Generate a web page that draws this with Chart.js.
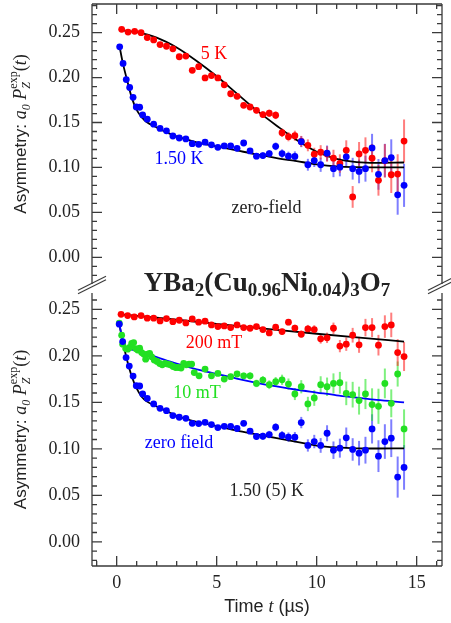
<!DOCTYPE html>
<html>
<head>
<meta charset="utf-8">
<script src="https://cdn.jsdelivr.net/npm/chart.js@4.4.0/dist/chart.umd.min.js"></script>
<style>
html, body { margin: 0; padding: 0; background: #fff; }
#wrap { position: relative; width: 451px; height: 623px; }
#wrap canvas { position: absolute; left: 0; top: 0; }
</style>
</head>
<body>
<div id="wrap">
  <canvas id="topChart" width="451" height="623"></canvas>
  <canvas id="bottomChart" width="451" height="623"></canvas>
</div>
<script>
// Common time bins (µs) used after the first microsecond or so
const tGrid = [1.53, 1.85, 2.17, 2.49, 2.81, 3.13, 3.46, 3.78, 4.10, 4.42, 4.74, 5.06, 5.38, 5.70, 6.02, 6.35, 6.67, 6.99, 7.31, 7.63, 7.95,
    8.27, 8.59, 8.91, 9.23, 9.56, 9.88, 10.20, 10.52, 10.84, 11.16, 11.48, 11.80, 12.12, 12.44, 12.77, 13.09, 13.41, 13.73, 14.05, 14.37];
const errGrid = [0.0012, 0.0012, 0.0013, 0.0013, 0.0014, 0.0015, 0.0016, 0.0017, 0.0018, 0.0019, 0.0020, 0.0022, 0.0023, 0.0025, 0.0027,
    0.0029, 0.0031, 0.0034, 0.0037, 0.0040, 0.0043, 0.0047, 0.0051, 0.0056, 0.0061, 0.0066, 0.0072, 0.0079, 0.0086, 0.0094, 0.0102,
    0.0111, 0.0121, 0.0132, 0.0144, 0.0157, 0.0171, 0.0186, 0.0203, 0.0221, 0.0240];

// Top panel: zero-field, 5 K and 1.50 K
const t5K = [0.25, 0.57, 0.90, 1.22].concat(tGrid);
const a5K = [0.2537, 0.2507, 0.2515, 0.2500,
    0.2445, 0.2419, 0.2368, 0.2349, 0.2320, 0.2232, 0.2239, 0.2081, 0.2122, 0.1996, 0.2022, 0.1996, 0.1919, 0.1820, 0.1791, 0.1691,
    0.1673, 0.1636, 0.1588, 0.1603, 0.1581, 0.1386, 0.1342, 0.1353, 0.1290, 0.1246, 0.1147, 0.1169, 0.1150, 0.1103, 0.1044, 0.1191,
    0.0672, 0.1151, 0.1191, 0.1103, 0.0857, 0.1074, 0.0919, 0.0926, 0.1294];
const e5K = [0.0010, 0.0010, 0.0010, 0.0011].concat(errGrid);

const t150K = [0.15, 0.32, 0.48, 0.65, 0.82, 0.98, 1.15, 1.30].concat(tGrid);
const a150K = [0.2342, 0.2158, 0.1978, 0.1890, 0.1780, 0.1673, 0.1670, 0.1585,
    0.1537, 0.1482, 0.1434, 0.1408, 0.1350, 0.1328, 0.1317, 0.1265, 0.1257, 0.1281, 0.1252, 0.1224, 0.1240, 0.1240, 0.1213, 0.1272,
    0.1184, 0.1125, 0.1132, 0.1154, 0.1235, 0.1154, 0.1125, 0.1123, 0.1287, 0.1030, 0.1077, 0.1030, 0.1158, 0.0986, 0.1003, 0.1118,
    0.0986, 0.0956, 0.0986, 0.1217, 0.0923, 0.1077, 0.1110, 0.0695, 0.0801];
const e150K = [0.0008, 0.0008, 0.0009, 0.0009, 0.0009, 0.0010, 0.0010, 0.0010].concat(errGrid);

const tFit5K = [0.25, 1, 2, 3, 4, 5, 6, 7, 8, 9, 10, 11, 12, 13, 14.37];
const aFit5K = [0.2525, 0.2505, 0.2445, 0.2335, 0.2185, 0.2015, 0.1825, 0.1635, 0.1465, 0.1305, 0.1175, 0.1095, 0.1060, 0.1052, 0.1055];
const tFit150K = [0.15, 0.3, 0.5, 0.75, 1.0, 1.25, 1.5, 2, 2.5, 3, 4, 5, 6, 7, 8, 9, 10, 11, 12, 13, 14.37];
const aFit150K = [0.234, 0.217, 0.199, 0.178, 0.164, 0.156, 0.1505, 0.1445, 0.139, 0.1345, 0.128, 0.1235, 0.119, 0.1145, 0.1105,
    0.107, 0.1035, 0.1012, 0.1003, 0.1000, 0.1000];

// Bottom panel: 1.50 K, 200 mT, 10 mT and zero field
const t200 = [0.22, 0.55, 0.88, 1.22].concat(tGrid);
const a200 = [0.2446, 0.2432, 0.2418, 0.2432,
    0.2404, 0.2404, 0.2375, 0.2400, 0.2367, 0.2382, 0.2353, 0.2396, 0.2361, 0.2372, 0.2332, 0.2314, 0.2321, 0.2303, 0.2332, 0.2303,
    0.2296, 0.2314, 0.2282, 0.2246, 0.2307, 0.2260, 0.2361, 0.2298, 0.2232, 0.2289, 0.2282, 0.2182, 0.2193, 0.2296, 0.2104, 0.2125,
    0.2221, 0.2118, 0.2303, 0.2303, 0.2114, 0.2314, 0.2332, 0.2035, 0.1992];
const e200 = [0.0007, 0.0007, 0.0007, 0.0008,
    0.0008, 0.0008, 0.0008, 0.0008, 0.0009, 0.0010, 0.0010, 0.0011, 0.0012, 0.0012, 0.0013, 0.0014, 0.0015, 0.0016, 0.0018, 0.0019,
    0.0020, 0.0022, 0.0024, 0.0026, 0.0028, 0.0031, 0.0033, 0.0036, 0.0040, 0.0043, 0.0047, 0.0051, 0.0056, 0.0061, 0.0066, 0.0072,
    0.0079, 0.0086, 0.0094, 0.0102, 0.0111, 0.0121, 0.0132, 0.0144, 0.0156];

const t10 = [0.13, 0.25, 0.30, 0.45, 0.55, 0.65, 0.75, 0.85, 0.95, 1.05, 1.15, 1.25, 1.35, 1.45, 1.55, 1.65, 1.75, 1.88, 2.02,
    2.15, 2.28, 2.42, 2.55, 2.68, 2.82, 2.95, 3.08, 3.22, 3.35, 3.48, 3.62, 3.75, 3.88, 4.12,
    4.42, 4.74, 5.06, 5.38, 5.70, 6.02, 6.35, 6.67, 6.99, 7.31, 7.63, 7.95, 8.27, 8.59, 8.91, 9.23, 9.56, 9.88, 10.20, 10.52,
    10.84, 11.16, 11.48, 11.80, 12.12, 12.44, 12.77, 13.09, 13.41, 13.73, 14.05, 14.37];
const a10 = [0.2350, 0.2221, 0.2125, 0.2078, 0.2071, 0.2089, 0.2132, 0.2142, 0.2078, 0.2061, 0.2082, 0.2035, 0.2018, 0.1964,
    0.2018, 0.2025, 0.1989, 0.1954, 0.1939, 0.1917, 0.1903, 0.1917, 0.1911, 0.1903, 0.1885, 0.1874, 0.1874, 0.1868, 0.1917,
    0.1903, 0.1911, 0.1911, 0.1820, 0.1785,
    0.1857, 0.1785, 0.1810, 0.1750, 0.1775, 0.1804, 0.1785, 0.1785, 0.1703, 0.1739, 0.1689, 0.1721, 0.1742, 0.1696, 0.1589,
    0.1667, 0.1482, 0.1546, 0.1689, 0.1667, 0.1703, 0.1710, 0.1596, 0.1582, 0.1518, 0.1589, 0.1475, 0.1457, 0.1703, 0.1489,
    0.1804, 0.1214];
const e10 = [0.0010, 0.0010, 0.0010, 0.0010, 0.0010, 0.0010, 0.0011, 0.0011, 0.0011, 0.0011, 0.0011, 0.0012, 0.0012, 0.0012,
    0.0013, 0.0013, 0.0013, 0.0014, 0.0014, 0.0014, 0.0015, 0.0015, 0.0015, 0.0016, 0.0016, 0.0017, 0.0017, 0.0018, 0.0018,
    0.0019, 0.0019, 0.0020, 0.0021, 0.0022,
    0.0023, 0.0024, 0.0026, 0.0028, 0.0030, 0.0032, 0.0034, 0.0037, 0.0040, 0.0043, 0.0047, 0.0051, 0.0055, 0.0060, 0.0065,
    0.0071, 0.0077, 0.0084, 0.0091, 0.0099, 0.0108, 0.0117, 0.0127, 0.0138, 0.0150, 0.0162, 0.0175, 0.0189, 0.0160, 0.0150,
    0.0135, 0.0210];

const tZF = [0.13, 0.30, 0.47, 0.63, 0.82, 0.98, 1.15, 1.30].concat(tGrid);
const aZF = [0.2340, 0.2153, 0.1981, 0.1889, 0.1782, 0.1678, 0.1675, 0.1589,
    0.1542, 0.1482, 0.1435, 0.1410, 0.1357, 0.1339, 0.1328, 0.1274, 0.1271, 0.1285, 0.1260, 0.1228, 0.1242, 0.1242, 0.1218, 0.1274,
    0.1189, 0.1132, 0.1135, 0.1153, 0.1232, 0.1143, 0.1125, 0.1125, 0.1282, 0.1036, 0.1078, 0.1036, 0.1167, 0.0985, 0.1007, 0.1118,
    0.0993, 0.0953, 0.0985, 0.1214, 0.0921, 0.1078, 0.1114, 0.0696, 0.0800];
const eZF = [0.0008, 0.0008, 0.0009, 0.0009, 0.0009, 0.0010, 0.0010, 0.0010].concat(errGrid);

const tFit200 = [0.17, 2, 4, 6, 8, 10, 12, 14.37];
const aFit200 = [0.2446, 0.2409, 0.2366, 0.2322, 0.2279, 0.2237, 0.2197, 0.2153];
const tFit10 = [0.13, 0.25, 0.4, 0.6, 1, 2, 3, 4, 5, 6, 7, 8, 9, 10, 11, 12, 13, 14.37];
const aFit10 = [0.235, 0.222, 0.211, 0.2075, 0.2055, 0.1985, 0.1915, 0.1855, 0.1805, 0.1755, 0.171, 0.167, 0.1635, 0.1605,
    0.1575, 0.155, 0.1525, 0.150];
const tFitZF = [0.13, 0.3, 0.5, 0.75, 1, 1.25, 1.5, 2, 2.5, 3, 4, 5, 6, 7, 8, 9, 10, 11, 12, 13, 14.37];
const aFitZF = [0.234, 0.216, 0.197, 0.178, 0.165, 0.156, 0.151, 0.1455, 0.1405, 0.1355, 0.129, 0.1245, 0.1195, 0.1155, 0.1115,
    0.1075, 0.1035, 0.1015, 0.1005, 0.1003, 0.1005];

// Axis ticks
const xTickValues = [0, 5, 10, 15];
const yTickValues = [0, 0.05, 0.10, 0.15, 0.20, 0.25];

const RED = '#ff0000';
const BLUE = '#0000ff';
const GREEN = '#22e022';
const SERIF = '"Liberation Serif", "Times New Roman", serif';
const SANS = '"Liberation Sans", Arial, sans-serif';

// Build {x, y} points from two arrays
function points(ts, as) {
    return ts.map((t, i) => ({ x: t, y: as[i] }));
}

function dataSet(ts, as, errs, color, barColor) {
    return {
        data: points(ts, as),
        err: errs,
        barColor: barColor,
        pointRadius: 3.4,
        pointBackgroundColor: color,
        pointBorderWidth: 0,
        showLine: false,
        order: 1
    };
}

function fitSet(ts, as, color) {
    return {
        data: points(ts, as),
        showLine: true,
        borderColor: color,
        borderWidth: 1.8,
        pointRadius: 0,
        cubicInterpolationMode: 'monotone',
        order: 5
    };
}

// Error bars under the markers
function drawErrorBars(chart) {
    const ctx = chart.ctx;
    const xs = chart.scales.x, ys = chart.scales.y;
    chart.data.datasets.forEach(ds => {
        if (!ds.err) return;
        ctx.save();
        ctx.strokeStyle = ds.barColor;
        ctx.lineWidth = 2;
        ds.data.forEach((p, i) => {
            const px = xs.getPixelForValue(p.x);
            ctx.beginPath();
            ctx.moveTo(px, ys.getPixelForValue(p.y + ds.err[i]));
            ctx.lineTo(px, ys.getPixelForValue(p.y - ds.err[i]));
            ctx.stroke();
        });
        ctx.restore();
    });
}

// Frame with inward ticks; the top panel has its x ticks on top, the bottom panel at the bottom
function drawFrame(chart, xEdge) {
    const ctx = chart.ctx, a = chart.chartArea;
    const xs = chart.scales.x, ys = chart.scales.y;
    ctx.save();
    ctx.strokeStyle = '#3a3a3a';
    ctx.lineWidth = 1.3;
    ctx.beginPath();
    ctx.moveTo(a.left, a.top); ctx.lineTo(a.left, a.bottom);
    ctx.moveTo(a.right, a.top); ctx.lineTo(a.right, a.bottom);
    const edgeY = xEdge === 'top' ? a.top : a.bottom;
    ctx.moveTo(a.left, edgeY); ctx.lineTo(a.right, edgeY);
    for (let k = -3; k <= 28; k++) {
        const v = k / 100;
        if (v < ys.min || v > ys.max) continue;
        const py = ys.getPixelForValue(v);
        const len = k % 5 === 0 ? 10 : 5;
        ctx.moveTo(a.left, py); ctx.lineTo(a.left + len, py);
        ctx.moveTo(a.right, py); ctx.lineTo(a.right - len, py);
    }
    const dir = xEdge === 'top' ? 1 : -1;
    for (let k = -1; k <= 16; k++) {
        const px = xs.getPixelForValue(k);
        const len = k % 5 === 0 ? 10 : 5;
        ctx.moveTo(px, edgeY); ctx.lineTo(px, edgeY + dir * len);
    }
    ctx.stroke();
    ctx.restore();
}

// Draws a run of text pieces with their own font and vertical offset
function drawPieces(ctx, pieces, x, y) {
    let cx = x;
    pieces.forEach(p => {
        ctx.font = p.font;
        if (p.stack) {
            let w = 0;
            p.stack.forEach(s => {
                ctx.font = s.font;
                ctx.fillText(s.text, cx, y + s.dy);
                w = Math.max(w, ctx.measureText(s.text).width);
            });
            cx += w;
        } else {
            ctx.fillText(p.text, cx, y + (p.dy || 0));
            cx += ctx.measureText(p.text).width;
        }
    });
}

function piecesWidth(ctx, pieces) {
    let w = 0;
    pieces.forEach(p => {
        if (p.stack) {
            let m = 0;
            p.stack.forEach(s => { ctx.font = s.font; m = Math.max(m, ctx.measureText(s.text).width); });
            w += m;
        } else {
            ctx.font = p.font;
            w += ctx.measureText(p.text).width;
        }
    });
    return w;
}

const yLabelPieces = [
    { text: 'Asymmetry: ', font: '17px ' + SANS },
    { text: 'a', font: 'italic 18px ' + SERIF },
    { text: '0', font: 'italic 12px ' + SERIF, dy: 4 },
    { text: ' P', font: 'italic 18px ' + SERIF },
    { stack: [
        { text: 'Z', font: 'italic 12px ' + SERIF, dy: 4 },
        { text: 'exp', font: '12px ' + SERIF, dy: -9 }
    ] },
    { text: '(', font: '18px ' + SERIF },
    { text: 't', font: 'italic 18px ' + SERIF },
    { text: ')', font: '18px ' + SERIF }
];

function drawYLabel(chart, centerY) {
    const ctx = chart.ctx;
    ctx.save();
    ctx.fillStyle = '#222';
    ctx.textBaseline = 'alphabetic';
    ctx.translate(26, centerY);
    ctx.rotate(-Math.PI / 2);
    const w = piecesWidth(ctx, yLabelPieces);
    drawPieces(ctx, yLabelPieces, -w / 2, 0);
    ctx.restore();
}

function drawNotes(chart, notes) {
    const ctx = chart.ctx;
    const xs = chart.scales.x, ys = chart.scales.y;
    ctx.save();
    ctx.font = '18px ' + SERIF;
    ctx.textAlign = 'center';
    ctx.textBaseline = 'middle';
    notes.forEach(n => {
        ctx.fillStyle = n.color;
        ctx.fillText(n.text, xs.getPixelForValue(n.t), ys.getPixelForValue(n.a));
    });
    ctx.restore();
}

const topNotes = [
    { text: '5 K', t: 4.87, a: 0.2257, color: RED },
    { text: '1.50 K', t: 3.12, a: 0.1088, color: BLUE },
    { text: 'zero-field', t: 7.49, a: 0.0548, color: '#222' }
];
const bottomNotes = [
    { text: '200 mT', t: 4.87, a: 0.2139, color: RED },
    { text: '10 mT', t: 4.02, a: 0.1593, color: GREEN },
    { text: 'zero field', t: 3.12, a: 0.1057, color: BLUE },
    { text: '1.50 (5) K', t: 7.5, a: 0.0543, color: '#222' }
];

const titlePieces = [
    { text: 'YBa', font: 'bold 27px ' + SERIF },
    { text: '2', font: 'bold 19px ' + SERIF, dy: 5 },
    { text: '(Cu', font: 'bold 27px ' + SERIF },
    { text: '0.96', font: 'bold 19px ' + SERIF, dy: 5 },
    { text: 'Ni', font: 'bold 27px ' + SERIF },
    { text: '0.04', font: 'bold 19px ' + SERIF, dy: 5 },
    { text: ')', font: 'bold 27px ' + SERIF },
    { text: '3', font: 'bold 19px ' + SERIF, dy: 5 },
    { text: 'O', font: 'bold 27px ' + SERIF },
    { text: '7', font: 'bold 19px ' + SERIF, dy: 5 }
];

const xLabelPieces = [
    { text: 'Time ', font: '18px ' + SANS },
    { text: 't', font: 'italic 18px ' + SERIF },
    { text: ' (\u00b5s)', font: '18px ' + SANS }
];

function baseOptions(yMin, yMax, padding, showX) {
    return {
        responsive: false,
        animation: false,
        events: [],
        layout: { padding: padding },
        plugins: { legend: { display: false }, tooltip: { enabled: false } },
        scales: {
            x: {
                type: 'linear',
                min: -1.2335,
                max: 16.267,
                display: showX,
                grid: { display: false, drawTicks: false },
                border: { display: false },
                afterBuildTicks: axis => { axis.ticks = xTickValues.map(v => ({ value: v })); },
                ticks: { font: { family: SERIF, size: 18 }, color: '#222', padding: 6 },
                afterFit: axis => {
                    axis.height = showX ? 57 : 0;
                    axis.paddingLeft = 0;
                    axis.paddingRight = 0;
                }
            },
            y: {
                type: 'linear',
                min: yMin,
                max: yMax,
                grid: { display: false, drawTicks: false },
                border: { display: false },
                afterBuildTicks: axis => { axis.ticks = yTickValues.map(v => ({ value: v })); },
                ticks: {
                    font: { family: SERIF, size: 18 },
                    color: '#222',
                    padding: 12,
                    callback: v => v.toFixed(2)
                },
                afterFit: axis => {
                    axis.width = 92;
                    axis.paddingTop = 0;
                    axis.paddingBottom = 0;
                }
            }
        }
    };
}

// Top panel
new Chart(document.getElementById('topChart'), {
    type: 'scatter',
    data: {
        datasets: [
            dataSet(t150K, a150K, e150K, BLUE, 'rgba(40, 40, 255, 0.6)'),
            dataSet(t5K, a5K, e5K, RED, 'rgba(255, 40, 40, 0.6)'),
            fitSet(tFit5K, aFit5K, '#000'),
            fitSet(tFit150K, aFit150K, '#000')
        ]
    },
    options: baseOptions(-0.0297, 0.2819, { top: 1, right: 9, bottom: 339, left: 0 }, false),
    plugins: [{
        id: 'topDecor',
        beforeDatasetsDraw: chart => drawErrorBars(chart),
        afterDraw: chart => {
            drawFrame(chart, 'top');
            drawNotes(chart, topNotes);
            drawYLabel(chart, 134);
        }
    }]
});

// Bottom panel
new Chart(document.getElementById('bottomChart'), {
    type: 'scatter',
    data: {
        datasets: [
            dataSet(tZF, aZF, eZF, BLUE, 'rgba(40, 40, 255, 0.6)'),
            dataSet(t10, a10, e10, GREEN, 'rgba(40, 230, 40, 0.6)'),
            dataSet(t200, a200, e200, RED, 'rgba(255, 40, 40, 0.6)'),
            fitSet(tFit200, aFit200, '#000'),
            fitSet(tFit10, aFit10, BLUE),
            fitSet(tFitZF, aFitZF, '#000')
        ]
    },
    options: baseOptions(-0.026, 0.2675, { top: 293, right: 9, bottom: 0, left: 0 }, true),
    plugins: [{
        id: 'bottomDecor',
        beforeDatasetsDraw: chart => drawErrorBars(chart),
        afterDraw: chart => {
            const ctx = chart.ctx, a = chart.chartArea;
            drawFrame(chart, 'bottom');
            drawNotes(chart, bottomNotes);
            drawYLabel(chart, (a.top + a.bottom) / 2);

            // break marks between the two panels
            ctx.save();
            ctx.strokeStyle = '#3a3a3a';
            ctx.lineWidth = 1.2;
            const gy = a.top - 8;
            [a.left, a.right].forEach(fx => {
                [-1.8, 1.8].forEach(off => {
                    ctx.beginPath();
                    ctx.moveTo(fx - 14, gy + off + 7);
                    ctx.lineTo(fx + 14, gy + off - 7);
                    ctx.stroke();
                });
            });
            ctx.restore();

            // compound title
            ctx.save();
            ctx.fillStyle = '#222';
            ctx.textBaseline = 'alphabetic';
            const tw = piecesWidth(ctx, titlePieces);
            drawPieces(ctx, titlePieces, (a.left + a.right) / 2 - tw / 2, a.top - 2);
            ctx.restore();

            // x axis title
            ctx.save();
            ctx.fillStyle = '#222';
            const xw = piecesWidth(ctx, xLabelPieces);
            drawPieces(ctx, xLabelPieces, (a.left + a.right) / 2 - xw / 2, 612);
            ctx.restore();
        }
    }]
});
</script>
</body>
</html>
